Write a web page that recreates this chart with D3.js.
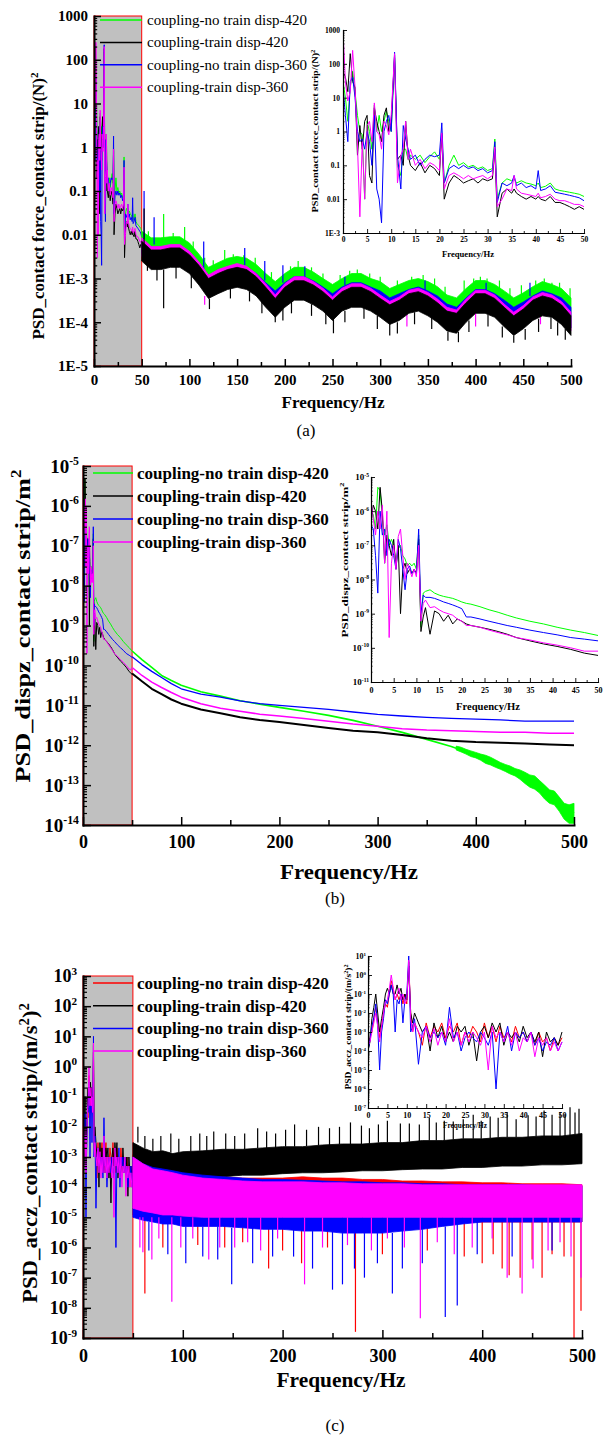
<!DOCTYPE html>
<html>
<head>
<meta charset="utf-8">
<script src="https://cdn.jsdelivr.net/npm/d3@7"></script>
<style>
  body { margin: 0; background: #fff; }
</style>
</head>
<body>
<svg id="fig" width="603" height="1440"></svg>
<script>
// ---------------- data ----------------
const seriesNames = ["coupling-no train disp-420", "coupling-train disp-420", "coupling-no train disp-360", "coupling-train disp-360"];
const colorsAB = ["#00ff00", "#000000", "#0000ff", "#ff00ff"];
const colorsC = ["#ff0000", "#000000", "#0000ff", "#ff00ff"];

// tick labels
const xLabelsA = ["0", "50", "100", "150", "200", "250", "300", "350", "400", "450", "500"];
const xLabelsBC = ["0", "100", "200", "300", "400", "500"];
const xLabelsInset = ["0", "5", "10", "15", "20", "25", "30", "35", "40", "45", "50"];
const yLabelsA = ["1E-5", "1E-4", "1E-3", "0.01", "0.1", "1", "10", "100", "1000"];
const yLabelsInsetA = ["1E-3", "0.01", "0.1", "1", "10", "100", "1000"];
const yExpB = ["-14", "-13", "-12", "-11", "-10", "-9", "-8", "-7", "-6", "-5"];
const yExpInsetB = ["-11", "-10", "-9", "-8", "-7", "-6", "-5"];
const yExpC = ["-9", "-8", "-7", "-6", "-5", "-4", "-3", "-2", "-1", "0", "1", "2", "3"];
const yExpInsetC = ["-7", "-6", "-5", "-4", "-3", "-2", "-1", "0", "1"];

// (a) contact force, 0-50 Hz detail (inset and shaded part)
const insetFreqA = [0,0.5,1,1.5,2,2.5,3,3.5,4,4.5,5,5.5,6,6.5,7,7.5,8,8.5,9,9.5,10,10.7,11.3,12,12.5,13,13.5,14,15,16,17,18,19,20,20.5,21,22,23,24,25,26,27,28,29,30,31,31.5,32,33,34,35,35.5,36,37,38,39,40,40.5,41,42,43,44,45,46,47,48,49,50];
const insetGreenA = [30,10,2,20,60,15,3,1,0.8,0.01,2,1,0.3,6,1,3,1,2,4,2,1,150,0.1,0.05,0.3,0.3,0.15,0.2,0.15,0.2,0.12,0.18,0.25,0.15,0.8,0.03,0.1,0.2,0.1,0.12,0.09,0.1,0.08,0.09,0.07,0.08,0.6,0.01,0.03,0.04,0.035,0.04,0.03,0.035,0.03,0.028,0.025,0.03,0.022,0.024,0.03,0.02,0.018,0.017,0.016,0.015,0.014,0.012];
const insetBlackA = [60,40,15,200,30,20,0.2,1.5,0.3,2,3,0.05,0.03,5,2,1,0.5,3,5,1,2,180,0.15,0.2,0.1,2,0.2,0.1,0.07,0.12,0.06,0.1,0.08,0.05,0.9,0.01,0.03,0.05,0.04,0.03,0.035,0.04,0.03,0.04,0.035,0.04,0.3,3e-3,0.015,0.02,0.015,0.02,0.015,0.012,0.01,0.012,0.01,0.012,0.01,0.009,0.012,0.008,0.008,0.007,0.006,0.005,0.006,0.005];
const insetBlueA = [20,3,0.5,30,40,10,1,0.5,0.6,0.3,1,0.5,0.1,3,0.02,0.01,2e-3,1,2,3,1,220,0.2,0.02,1.5,0.6,0.3,0.15,0.2,0.1,0.15,0.2,0.18,0.2,1.8,0.03,0.08,0.1,0.08,0.1,0.08,0.09,0.07,0.08,0.06,0.07,0.5,0.008,0.03,0.025,0.03,0.05,0.025,0.03,0.022,0.025,0.02,0.07,0.018,0.02,0.025,0.016,0.015,0.014,0.013,0.012,0.011,0.009];
const insetMagentaA = [900,30,8,15,250,20,0.4,3e-3,0.5,0.01,1.5,2,0.5,7,1,0.8,0.3,2,1.5,0.8,3,200,0.03,0.2,0.3,2,0.15,0.3,0.1,0.15,0.08,0.12,0.1,0.07,0.9,0.02,0.05,0.06,0.05,0.04,0.05,0.04,0.045,0.05,0.04,0.05,0.35,0.006,0.01,0.02,0.018,0.05,0.02,0.015,0.014,0.013,0.012,0.015,0.011,0.012,0.014,0.01,0.009,0.009,0.008,0.007,0.007,0.006];

// (a) 50-500 Hz: upper / lower edge of each noisy trace, every 10 Hz
const bandFreqA = d3.range(50, 501, 10);
const greenHiA = [1.2e-2,8.5e-3,8.5e-3,9e-3,9e-3,6.5e-3,3.6e-3,1.8e-3,2.3e-3,2.9e-3,3.2e-3,2.9e-3,2.1e-3,1.3e-3,8.5e-4,1.3e-3,1.8e-3,1.8e-3,1.4e-3,1e-3,7.3e-4,1e-3,1.3e-3,1.3e-3,1e-3,8.5e-4,5.9e-4,7.3e-4,9e-4,1e-3,8.5e-4,6.5e-4,4.2e-4,3.6e-4,5.9e-4,9e-4,9e-4,7.3e-4,5.2e-4,3.6e-4,4.7e-4,6.5e-4,8.5e-4,7.3e-4,5.9e-4,3.6e-4];
const greenLoA = [4.4e-3,3.1e-3,3.1e-3,3.5e-3,3.5e-3,2.5e-3,1.4e-3,6.9e-4,8.8e-4,1.1e-3,1.25e-3,1.1e-3,8e-4,5e-4,3.1e-4,5e-4,6.9e-4,6.9e-4,5.6e-4,3.9e-4,2.8e-4,3.9e-4,5e-4,5e-4,3.9e-4,3.1e-4,2.2e-4,2.8e-4,3.5e-4,3.9e-4,3.1e-4,2.5e-4,1.6e-4,1.4e-4,2.2e-4,3.5e-4,3.5e-4,2.8e-4,2e-4,1.4e-4,1.75e-4,2.5e-4,3.1e-4,2.8e-4,2.2e-4,1.4e-4];
const blueHiA = [7.2e-3,5.2e-3,5.2e-3,5.6e-3,5.6e-3,4e-3,2.2e-3,1.1e-3,1.4e-3,1.8e-3,2e-3,1.8e-3,1.3e-3,8e-4,5.2e-4,8e-4,1.1e-3,1.1e-3,8.8e-4,6.4e-4,4.5e-4,6.4e-4,8e-4,8e-4,6.4e-4,5.2e-4,3.6e-4,4.5e-4,5.6e-4,6.4e-4,5.2e-4,4e-4,2.6e-4,2.2e-4,3.6e-4,5.6e-4,5.6e-4,4.5e-4,3.2e-4,2.2e-4,2.9e-4,4e-4,5.2e-4,4.5e-4,3.6e-4,2.2e-4];
const blueLoA = [3.8e-3,2.4e-3,2.4e-3,2.7e-3,2.7e-3,2e-3,1.1e-3,5.3e-4,6.8e-4,8.4e-4,9.5e-4,8.4e-4,6e-4,3.3e-4,2e-4,3.3e-4,4.8e-4,4.8e-4,3.8e-4,2.7e-4,1.7e-4,2.7e-4,3.3e-4,3.3e-4,2.7e-4,2e-4,1.3e-4,1.7e-4,2.4e-4,2.7e-4,2.1e-4,1.5e-4,9.5e-5,8.4e-5,1.5e-4,2.4e-4,2.4e-4,2e-4,1.2e-4,7.5e-5,1.1e-4,1.7e-4,2.1e-4,2e-4,1.3e-4,7.5e-5];
const magentaHiA = [8.5e-3,5.4e-3,5.4e-3,6e-3,6e-3,4.2e-3,2.4e-3,1.2e-3,1.6e-3,1.9e-3,2.2e-3,1.9e-3,1.3e-3,7.6e-4,4.2e-4,7.6e-4,1.1e-3,1.1e-3,8.5e-4,6e-4,3.8e-4,6e-4,7.6e-4,7.6e-4,6e-4,4.2e-4,3e-4,3.8e-4,5.4e-4,6e-4,4.8e-4,3.4e-4,2.2e-4,1.9e-4,3.4e-4,5.4e-4,5.4e-4,4.2e-4,2.6e-4,1.7e-4,2.4e-4,3.8e-4,4.8e-4,4.2e-4,3e-4,1.7e-4];
const magentaLoA = [3.2e-3,2.1e-3,2.1e-3,2.3e-3,2.3e-3,1.7e-3,9.2e-4,4.5e-4,5.8e-4,7.3e-4,8.2e-4,7.3e-4,5.2e-4,2.9e-4,1.7e-4,2.9e-4,4.2e-4,4.2e-4,3.2e-4,2.3e-4,1.4e-4,2.3e-4,2.9e-4,2.9e-4,2.3e-4,1.7e-4,1.2e-4,1.4e-4,2.1e-4,2.3e-4,1.8e-4,1.3e-4,8.2e-5,7.3e-5,1.3e-4,2.1e-4,2.1e-4,1.7e-4,1e-4,6.5e-5,9.2e-5,1.4e-4,1.8e-4,1.7e-4,1.2e-4,6.5e-5];
const blackHiA = [7.1e-3,4.5e-3,4.5e-3,5e-3,5e-3,3.5e-3,2e-3,1e-3,1.3e-3,1.6e-3,1.8e-3,1.6e-3,1.1e-3,6.3e-4,3.5e-4,6.3e-4,8.9e-4,8.9e-4,7.1e-4,5e-4,3.2e-4,5e-4,6.3e-4,6.3e-4,5e-4,3.5e-4,2.5e-4,3.2e-4,4.5e-4,5e-4,4e-4,2.8e-4,1.8e-4,1.6e-4,2.8e-4,4.5e-4,4.5e-4,3.5e-4,2.2e-4,1.4e-4,2e-4,3.2e-4,4e-4,3.5e-4,2.5e-4,1.4e-4];
const blackLoA = [2.5e-3,1.6e-3,1.6e-3,1.8e-3,1.8e-3,1.3e-3,7.1e-4,3.5e-4,4.5e-4,5.6e-4,6.3e-4,5.6e-4,4e-4,2.2e-4,1.3e-4,2.2e-4,3.2e-4,3.2e-4,2.5e-4,1.8e-4,1.1e-4,1.8e-4,2.2e-4,2.2e-4,1.8e-4,1.3e-4,8.9e-5,1.1e-4,1.6e-4,1.8e-4,1.4e-4,1e-4,6.3e-5,5.6e-5,1e-4,1.6e-4,1.6e-4,1.3e-4,7.9e-5,5e-5,7.1e-5,1.1e-4,1.4e-4,1.3e-4,8.9e-5,5e-5];
// isolated peaks: [Hz, from, to]
const spikesGreenA = [[57,6e-3,1.2e-2],[73,5e-3,3e-2],[83,7e-3,1.1e-2],[95,5e-3,1.5e-2],[104,4.5e-3,7e-3],[116,1.4e-3,3e-3],[125,1.6e-3,2.6e-3],[137,2e-3,4.5e-3],[146,2.4e-3,3.6e-3],[157,2.2e-3,3.4e-3],[169,1.5e-3,3e-3],[186,8e-4,1.4e-3],[206,1.2e-3,1.9e-3],[214,1.2e-3,2.5e-3],[228,1.2e-3,1.8e-3],[240,8e-4,1.3e-3],[258,7e-4,1.2e-3],[268,9e-4,1.5e-3],[276,9e-4,1.6e-3],[289,8e-4,1.3e-3],[300,6e-4,1.1e-3],[318,5e-4,9e-4],[333,7e-4,1.1e-3],[345,7e-4,1.2e-3],[357,6e-4,1e-3],[368,3.5e-4,6.5e-4],[388,4e-4,9e-4],[398,6e-4,1e-3],[405,7e-4,1.1e-3],[412,6e-4,1e-3],[425,5e-4,9e-4],[436,3e-4,6e-4],[448,3.5e-4,7e-4],[463,5e-4,9e-4],[472,6e-4,1e-3],[480,5e-4,8e-4],[488,4.5e-4,8e-4],[499,3e-4,6e-4]];
const spikesBlueA = [[52.5,8e-3,1e-1],[63,6e-3,2.5e-2],[115,1.3e-3,7e-3],[158,2e-3,5e-3],[179,9e-4,2.5e-3],[198,8e-4,2e-3],[221,1e-3,1.9e-3],[263,7e-4,1.1e-3],[347,5e-4,9e-4],[411,5e-4,8e-4],[457,4e-4,8e-4]];
const spikesMagentaA = [[116,4e-4,2.5e-4],[328,1.8e-4,8e-5],[400,2e-4,8e-5],[468,1.5e-4,9e-5]];
const spikesBlackA = [[52.5,6e-3,4e-2],[56,4e-3,1.5e-3],[66,1.8e-3,9e-4],[73,1.6e-3,2.1e-4],[86,2e-3,1e-3],[102,1.2e-3,6e-4],[121,3.5e-4,2e-4],[143,6e-4,3.5e-4],[163,5e-4,3e-4],[176,3e-4,1.6e-4],[190,1.5e-4,1e-4],[198,2e-4,1.1e-4],[207,3e-4,1.6e-4],[228,2.6e-4,1.4e-4],[243,1.7e-4,9e-5],[251,1.2e-4,5.6e-5],[263,1.8e-4,1e-4],[283,2.2e-4,1.2e-4],[297,1.4e-4,7e-5],[310,1e-4,5e-5],[318,1e-4,5.5e-5],[336,1.7e-4,9e-5],[354,1.3e-4,7e-5],[371,6e-5,3.8e-5],[382,6e-5,3.5e-5],[393,1.1e-4,6e-5],[413,1.5e-4,8e-5],[428,8e-5,4.5e-5],[440,5e-5,3.4e-5],[452,7e-5,4e-5],[466,1.2e-4,6e-5],[479,1.3e-4,7e-5],[486,1e-4,5e-5],[494,7e-5,4e-5]];

// (b) displacement, 0-50 Hz detail
const insetFreqB = [0,0.5,1,1.5,2,2.5,3,3.5,4,4.5,5,5.5,6,6.5,7,7.5,8,8.5,9,9.5,10,10.5,11,11.5,12,13,14,15,16,17,18,19,20,21,22,24,26,28,30,32,35,38,41,44,47,50];
const insetGreenB = [1e-6,8e-7,3e-7,5e-6,4e-6,6e-7,2e-7,4e-7,1e-7,1.5e-7,1e-7,3e-8,8e-8,1e-7,5e-8,4e-8,2.5e-8,3e-8,2.5e-8,3e-8,2e-8,2e-7,4e-10,4e-9,4.5e-9,5e-9,4e-9,3.5e-9,3.2e-9,3e-9,2.8e-9,2.5e-9,2.2e-9,2e-9,1.9e-9,1.6e-9,1.3e-9,1.1e-9,9e-10,7.5e-10,6e-10,5e-10,4e-10,3.3e-10,2.8e-10,2.3e-10];
const insetBlackB = [5e-7,1.5e-6,1e-6,3e-7,5e-6,1e-6,3e-8,2e-7,1e-7,5e-8,1.5e-7,2e-8,1e-7,1e-9,2e-8,3e-8,1.5e-8,2e-8,1.5e-8,2e-8,1.5e-8,1.5e-7,3e-10,8e-10,1.5e-9,2.5e-10,1.2e-9,1e-9,6e-10,9e-10,5e-10,7e-10,6e-10,5e-10,4.5e-10,4e-10,3.5e-10,3e-10,2.5e-10,2e-10,1.6e-10,1.3e-10,1.1e-10,9e-11,7e-11,6e-11];
const insetBlueB = [4e-7,3e-7,5e-8,4e-9,1e-6,2e-7,3e-7,5e-8,1.5e-7,1e-7,5e-8,2e-8,1.5e-7,8e-8,2e-8,5e-9,2e-8,2.5e-8,1.5e-8,1.8e-8,1.5e-8,3e-7,1e-9,3.5e-9,3e-9,3e-9,2.8e-9,2.5e-9,2.2e-9,2e-9,1.8e-9,1.6e-9,1.4e-9,8e-10,8e-10,7e-10,6e-10,5.2e-10,4.5e-10,4e-10,3.3e-10,2.8e-10,2.4e-10,2e-10,1.8e-10,1.6e-10];
const insetMagentaB = [2e-6,6e-7,2e-7,1e-6,3e-7,1.5e-6,3e-8,1e-6,2e-10,3e-8,1e-7,2e-8,1.8e-7,3e-7,5e-8,1e-8,3e-8,2e-8,1.2e-8,2e-8,1.2e-8,1e-7,6e-10,2e-9,2.5e-9,1.5e-9,1.6e-9,1.3e-9,1.1e-9,1e-9,9e-10,7e-10,6e-10,4.5e-10,4.5e-10,4e-10,3.3e-10,2.8e-10,2.4e-10,2e-10,1.7e-10,1.4e-10,1.2e-10,1e-10,8e-11,8e-11];

// (b) 50-500 Hz
const lineFreqB = [50,60,70,80,90,100,120,140,160,180,200,225,250,275,300,325,350,375,400,425,450,475,500];
const greenB = [2.3e-10,1.4e-10,8.9e-11,5.6e-11,4.2e-11,3.2e-11,2.2e-11,1.7e-11,1.3e-11,1.07e-11,8.9e-12,7.1e-12,5.6e-12,4.2e-12,3e-12,2.1e-12,1.4e-12,9.3e-13,5.6e-13,3.2e-13,1.8e-13,5.6e-14,2e-14];
const blackB = [6.3e-11,4e-11,2.6e-11,1.9e-11,1.4e-11,1.1e-11,7.9e-12,6.3e-12,5e-12,4.3e-12,3.8e-12,3.2e-12,2.7e-12,2.3e-12,2.1e-12,1.8e-12,1.5e-12,1.3e-12,1.2e-12,1.15e-12,1.1e-12,1.05e-12,1e-12];
const blueB = [1.66e-10,1.05e-10,7.1e-11,5e-11,3.5e-11,2.6e-11,1.9e-11,1.6e-11,1.3e-11,1.1e-11,1e-11,8.9e-12,7.9e-12,6.8e-12,5.9e-12,5.4e-12,5e-12,4.7e-12,4.5e-12,4.3e-12,4e-12,4e-12,4e-12];
const magentaB = [8.9e-11,5.6e-11,3.8e-11,2.8e-11,2.1e-11,1.6e-11,1.1e-11,8.5e-12,7.1e-12,6e-12,5.4e-12,4.7e-12,4e-12,3.4e-12,3e-12,2.6e-12,2.4e-12,2.3e-12,2.2e-12,2.1e-12,2.1e-12,2e-12,2e-12];
// green trace spreads into a band at the top end
const greenBandFreqB = [380,385,390,395,400,405,410,415,420,425,430,435,440,445,450,455,460,465,470,475,480,485,490,495,500];
const greenHiB = [9.5e-13,8.9e-13,7.9e-13,7.2e-13,6.6e-13,6e-13,5.6e-13,5e-13,4.3e-13,3.7e-13,3.3e-13,3e-13,2.6e-13,2.4e-13,2.1e-13,1.8e-13,1.7e-13,1.3e-13,1e-13,7.6e-14,7.1e-14,5e-14,3.5e-14,3.2e-14,3.5e-14];
const greenLoB = [7.6e-13,6.8e-13,6e-13,5.2e-13,4.8e-13,4.2e-13,3.5e-13,3.2e-13,2.8e-13,2.5e-13,2.2e-13,1.9e-13,1.7e-13,1.4e-13,1.1e-13,8.9e-14,7.9e-14,6.3e-14,4.5e-14,3.5e-14,3.2e-14,2.2e-14,1.4e-14,1.1e-14,1.1e-14];

// (c) acceleration, 0-50 Hz detail
const insetFreqC = [0,0.5,1,1.5,2,2.5,3,3.5,4,4.5,5,5.5,6,6.5,7,7.5,8,8.5,9,9.5,10,10.5,11,11.5,12,13,14,15,16,17,18,19,20,21,22,23,24,25,26,27,28,29,30,31,32,33,34,35,36,37,38,39,40,41,42,43,44,45,46,47,48,49,50];
const insetRedC = [2e-4,5e-4,1e-3,5e-3,2e-2,3e-3,5e-4,2e-3,1e-2,3e-2,2e-2,1e-1,5e-1,2e-1,5e-2,1e-1,5e-2,1e-1,3e-2,1e-1,3e-2,5,1e-2,1e-3,3e-3,1e-3,2e-4,3e-3,5e-4,2e-3,1e-3,3e-3,5e-4,2e-3,1e-3,3e-3,2e-4,1e-3,5e-4,2e-3,1e-3,3e-4,3e-3,5e-4,2e-3,3e-4,2e-3,5e-4,1e-3,3e-4,2e-3,5e-4,1e-3,3e-4,1e-3,2e-4,1e-3,3e-4,5e-4,1e-4,5e-4,2e-4,5e-4];
const insetBlackC = [1e-4,3e-4,5e-3,2e-2,1e-1,1e-2,1e-3,5e-3,2e-2,1e-1,2e-1,1e-1,3e-1,1e-1,1e-1,3e-1,1e-1,2e-1,5e-2,1e-1,5e-2,3,1e-2,3e-3,1e-2,3e-3,1e-3,2e-3,1e-4,3e-3,5e-4,2e-3,3e-4,1e-3,3e-4,2e-3,1e-3,2e-3,2e-4,1e-3,3e-5,1e-3,2e-3,5e-4,3e-3,1e-3,3e-3,2e-4,1e-3,5e-4,1e-3,3e-4,2e-3,5e-4,1e-3,3e-4,1e-3,5e-5,1e-3,3e-4,5e-4,2e-4,1e-3];
const insetBlueC = [1e-4,4e-4,2e-3,6e-3,3e-2,2e-3,1e-5,1e-3,5e-3,5e-2,3e-2,1e-1,3e-1,1e-1,1e-3,5e-2,3e-2,1e-1,3e-3,5e-2,1e-1,10,1e-3,2e-3,5e-3,2e-5,1e-3,2e-3,5e-4,1e-3,5e-4,1e-3,2e-4,2e-2,5e-4,1e-3,1e-4,5e-4,1e-3,5e-4,3e-4,1e-3,5e-4,2e-4,1e-3,1e-6,1e-3,3e-4,2e-3,1e-4,1e-3,5e-4,1e-3,3e-4,1e-3,2e-4,5e-4,1e-4,3e-4,2e-4,5e-4,1e-4,3e-4];
const insetMagentaC = [2e-4,3e-4,1e-3,3e-3,1e-2,2e-3,3e-4,2e-3,1e-2,4e-2,5e-2,2e-1,1,2e-1,5e-2,1e-1,2e-1,5e-2,1e-1,3e-2,5e-2,6,5e-3,1e-3,3e-3,1e-3,5e-4,2e-3,3e-4,1.5e-3,2e-4,1e-3,3e-4,5e-3,3e-4,1e-3,2e-4,1e-3,3e-4,1e-3,5e-4,2e-4,1e-3,1e-5,2e-3,5e-4,1e-3,3e-4,1e-3,2e-4,1e-3,1e-4,5e-4,3e-4,1e-3,5e-5,5e-4,2e-4,5e-4,1e-4,3e-4,1e-4,3e-4];

// (c) 50-500 Hz: upper / lower edge of each noisy trace
const bandFreqC = [50,60,70,80,90,100,120,140,160,180,200,220,240,260,280,300,320,340,360,380,400,420,440,460,480,500];
const redHiC = [1.2e-3,7e-4,5e-4,4e-4,3.5e-4,3e-4,2.5e-4,2.2e-4,2e-4,2e-4,2e-4,2.2e-4,2e-4,2e-4,1.8e-4,1.8e-4,1.6e-4,1.6e-4,1.5e-4,1.5e-4,1.4e-4,1.4e-4,1.3e-4,1.3e-4,1.3e-4,1.2e-4];
const redLoC = [1.2e-5,1e-5,9e-6,8e-6,8e-6,8e-6,8e-6,8e-6,8e-6,8e-6,8e-6,8e-6,8e-6,8e-6,8e-6,8e-6,8e-6,8e-6,8e-6,7e-6,7e-6,7e-6,7e-6,7e-6,7e-6,7e-6];
const blackHiC = [3e-3,2e-3,1.5e-3,1.6e-3,1.3e-3,1.5e-3,1.6e-3,1.8e-3,1.8e-3,2e-3,2.2e-3,2.2e-3,2.5e-3,2.7e-3,2.7e-3,3e-3,3e-3,3.5e-3,3.5e-3,4e-3,4e-3,4.5e-3,4.5e-3,5e-3,5e-3,6e-3];
const blackLoC = [3e-4,2.5e-4,2e-4,2e-4,1.8e-4,2e-4,2e-4,2.2e-4,2.5e-4,2.5e-4,2.8e-4,3e-4,3e-4,3.2e-4,3.5e-4,3.5e-4,3.8e-4,4e-4,4e-4,4.5e-4,4.5e-4,5e-4,5e-4,5.5e-4,5.5e-4,6e-4];
const blueHiC = [1e-3,6e-4,4.5e-4,4e-4,3.5e-4,3e-4,2.5e-4,2.2e-4,2e-4,1.8e-4,1.8e-4,1.7e-4,1.6e-4,1.5e-4,1.5e-4,1.4e-4,1.4e-4,1.3e-4,1.3e-4,1.2e-4,1.2e-4,1.2e-4,1.2e-4,1.1e-4,1.1e-4,1.1e-4];
const blueLoC = [1e-5,8e-6,7e-6,6e-6,6e-6,5e-6,5e-6,5e-6,4.5e-6,4e-6,4e-6,3.5e-6,3.5e-6,3e-6,3e-6,3e-6,3.5e-6,4e-6,5e-6,6e-6,7e-6,7e-6,7e-6,7e-6,7e-6,7e-6];
const magentaHiC = [1e-3,6e-4,4e-4,3.5e-4,3e-4,2.5e-4,2e-4,1.8e-4,1.6e-4,1.5e-4,1.5e-4,1.5e-4,1.4e-4,1.4e-4,1.3e-4,1.3e-4,1.3e-4,1.2e-4,1.2e-4,1.2e-4,1.2e-4,1.2e-4,1.2e-4,1.2e-4,1.2e-4,1.2e-4];
const magentaLoC = [2e-5,1.6e-5,1.4e-5,1.2e-5,1.2e-5,1.1e-5,1e-5,1e-5,1e-5,1e-5,1e-5,1e-5,1e-5,1e-5,1e-5,1e-5,1e-5,1e-5,1e-5,1e-5,1e-5,1e-5,1e-5,1e-5,1e-5,1e-5];
const spikesBlackC = [[55,3e-3,1e-2],[62,2e-3,5e-3],[70,1.5e-3,4e-3],[78,1.5e-3,5e-3],[88,1.4e-3,6e-3],[96,1.4e-3,4e-3],[108,1.5e-3,5e-3],[117,1.6e-3,6e-3],[124,1.6e-3,5e-3],[131,1.7e-3,7e-3],[143,1.8e-3,6e-3],[152,1.8e-3,5e-3],[162,1.8e-3,6e-3],[175,2e-3,9e-3],[184,2e-3,7e-3],[193,2e-3,6e-3],[203,2.2e-3,8e-3],[212,2.2e-3,1.2e-2],[224,2.3e-3,8e-3],[236,2.4e-3,1e-2],[247,2.5e-3,9e-3],[257,2.6e-3,1e-2],[268,2.7e-3,1.4e-2],[279,2.7e-3,1.1e-2],[287,2.8e-3,9e-3],[296,3e-3,1.2e-2],[305,3e-3,1.6e-2],[318,3e-3,1.3e-2],[327,3.2e-3,1.3e-2],[337,3.4e-3,1.2e-2],[347,3.5e-3,2e-2],[354,3.5e-3,1.4e-2],[362,3.5e-3,1.6e-2],[371,3.8e-3,1.5e-2],[381,4e-3,1.8e-2],[391,4e-3,2.5e-2],[399,4e-3,1.6e-2],[408,4.2e-3,2.2e-2],[416,4.4e-3,2e-2],[425,4.5e-3,3e-2],[434,4.5e-3,1.8e-2],[446,4.6e-3,2.4e-2],[454,4.8e-3,2.2e-2],[462,5e-3,3.5e-2],[470,5e-3,2.5e-2],[478,5e-3,3e-2],[483,5e-3,2.6e-2],[488,5.2e-3,4.5e-2],[493,5.5e-3,3e-2],[497,5.8e-3,4e-2]];
const spikesRedC = [[62,1e-5,3e-8],[80,8e-6,1e-6],[115,8e-6,1.2e-6],[142,8e-6,1e-6],[160,8e-6,1.5e-6],[186,8e-6,2e-7],[200,8e-6,8e-7],[219,8e-6,3e-7],[245,8e-6,1e-6],[273,8e-6,1.6e-9],[300,8e-6,6e-7],[345,8e-6,8e-7],[382,7e-6,5e-7],[400,7e-6,3e-7],[411,7e-6,6e-7],[420,7e-6,2e-7],[427,7e-6,1.2e-7],[438,7e-6,1e-7],[450,7e-6,4e-7],[460,7e-6,1e-7],[470,7e-6,6e-7],[482,7e-6,5e-7],[492,7e-6,1e-9],[499,7e-6,8e-9]];
const spikesBlueC = [[66,7e-6,8e-7],[85,6e-6,6e-7],[103,5e-6,3e-7],[120,5e-6,5e-7],[135,5e-6,4e-7],[149,4.5e-6,6e-8],[170,4.5e-6,3e-7],[190,4e-6,5e-7],[211,4e-6,5e-7],[230,3.5e-6,2e-7],[250,3.5e-6,4e-8],[260,3e-6,6e-8],[272,3e-6,2e-7],[282,3e-6,1e-7],[295,3e-6,3e-7],[310,3e-6,3e-8],[320,3.5e-6,2e-7],[340,4e-6,3e-7],[363,5e-6,5e-9],[375,6e-6,1.2e-8],[395,7e-6,6e-7],[430,7e-6,5e-7],[470,7e-6,8e-7]];
const spikesMagentaC = [[57,1e-5,1e-6],[60,1e-5,7e-7],[69,1e-5,4e-7],[76,1e-5,2e-6],[89,1e-5,1.6e-8],[98,1e-5,1e-6],[110,1e-5,2e-6],[126,1e-5,4e-7],[137,1e-5,1e-6],[152,1e-5,1e-6],[165,1e-5,1.5e-6],[178,1e-5,8e-7],[195,1e-5,2e-6],[222,1e-5,6e-8],[240,1e-5,1e-6],[265,1e-5,1.2e-6],[289,1e-5,8e-7],[305,1e-5,2e-6],[322,1e-5,1e-6],[338,1e-5,4.5e-9],[355,1e-5,1.5e-6],[372,1e-5,6e-7],[390,1e-5,1e-6],[410,1e-5,2e-6],[425,1e-5,1e-7],[440,1e-5,3e-8],[451,1e-5,2e-7],[466,1e-5,8e-7],[478,1e-5,1.5e-6],[489,1e-5,5e-7],[499,1e-5,1e-7]];

// ---------------- drawing ----------------
const SERIF = "'Liberation Serif','Times New Roman',Times,serif";
const svg = d3.select("#fig");

function makeFrame(id, left, right, top, bottom, xMax, yDomain) {
  const x = d3.scaleLinear().domain([0, xMax]).range([left, right]);
  const y = d3.scaleLog().domain(yDomain).range([bottom, top]);
  svg.append("clipPath").attr("id", id)
    .append("rect").attr("x", left).attr("y", top - 1)
    .attr("width", right - left + 1).attr("height", bottom - top + 1);
  return { x, y, clip: `url(#${id})` };
}

function shade(fr) {
  svg.append("rect")
    .attr("x", fr.x(0)).attr("y", fr.y.range()[1])
    .attr("width", fr.x(50) - fr.x(0))
    .attr("height", fr.y.range()[0] - fr.y.range()[1])
    .attr("fill", "#c0c0c0").attr("stroke", "#ff0000").attr("stroke-width", 1);
}

function trace(g, fr, freqs, vals, color, w) {
  const rows = freqs.map((f, i) => ({ f, v: vals[i] }));
  g.append("path").datum(rows)
    .attr("fill", "none").attr("stroke", color).attr("stroke-width", w)
    .attr("stroke-linejoin", "round")
    .attr("d", d3.line().x(d => fr.x(d.f)).y(d => fr.y(d.v)));
}

function band(g, fr, freqs, hi, lo, color) {
  const rows = freqs.map((f, i) => ({ f, hi: hi[i], lo: lo[i] }));
  g.append("path").datum(rows)
    .attr("fill", color).attr("stroke", color).attr("stroke-width", 0.8)
    .attr("d", d3.area().x(d => fr.x(d.f)).y0(d => fr.y(d.lo)).y1(d => fr.y(d.hi)));
}

function spikes(g, fr, list, color, w) {
  g.selectAll(null).data(list).join("line")
    .attr("x1", d => fr.x(d[0])).attr("x2", d => fr.x(d[0]))
    .attr("y1", d => fr.y(d[1])).attr("y2", d => fr.y(d[2]))
    .attr("stroke", color).attr("stroke-width", w);
}

function axes(fr, o) {
  const g = svg.append("g");
  const [x0] = fr.x.range();
  const yb = fr.y.range()[0];
  const kLo = Math.round(Math.log10(fr.y.domain()[0]));
  const kHi = Math.round(Math.log10(fr.y.domain()[1]));
  const yMajor = d3.range(kLo, kHi + 1).map(k => Math.pow(10, k));
  const yMinor = [];
  for (let k = kLo; k < kHi; k++) for (let m = 2; m < 10; m++) yMinor.push(m * Math.pow(10, k));
  const xMajor = o.xLabels.map(Number);
  const style = s => s.attr("font-family", SERIF).attr("font-size", o.font).attr("font-weight", "bold");

  g.append("g").attr("transform", `translate(0,${yb})`)
    .call(d3.axisBottom(fr.x).tickValues(o.xMinor).tickSize(-o.minor).tickSizeOuter(0).tickFormat(""))
    .call(s => { s.select(".domain").remove(); s.selectAll("line").attr("stroke-width", o.sw * 0.75); });
  g.append("g").attr("transform", `translate(${x0},0)`)
    .call(d3.axisLeft(fr.y).tickValues(yMinor).tickSize(-o.minor * 0.8).tickSizeOuter(0).tickFormat(""))
    .call(s => { s.select(".domain").remove(); s.selectAll("line").attr("stroke-width", o.sw * 0.6); });

  const xa = g.append("g").attr("transform", `translate(0,${yb})`)
    .call(d3.axisBottom(fr.x).tickValues(xMajor).tickSize(-o.tick).tickSizeOuter(0)
      .tickPadding(o.padX).tickFormat((d, i) => o.xLabels[i]))
    .call(style);
  xa.select(".domain").attr("stroke-width", o.sw).attr("stroke-linecap", "square");
  xa.selectAll(".tick line").attr("stroke-width", o.sw * 0.75);
  if (o.xFont) xa.attr("font-size", o.xFont);

  const ya = g.append("g").attr("transform", `translate(${x0},0)`)
    .call(d3.axisLeft(fr.y).tickValues(yMajor).tickSize(-o.tick).tickSizeOuter(0)
      .tickPadding(o.padY).tickFormat(""))
    .call(style);
  ya.select(".domain").attr("stroke-width", o.sw).attr("stroke-linecap", "square");
  ya.selectAll(".tick line").attr("stroke-width", o.sw * 0.75);
  ya.selectAll(".tick text").each(function (d, i) {
    const t = d3.select(this);
    if (o.sup) {
      t.append("tspan").text("10");
      t.append("tspan").attr("dy", -o.font * 0.42).attr("font-size", o.font * 0.62).text(o.yLabels[i]);
    } else {
      t.text(o.yLabels[i]);
    }
  });
}

// text with optional superscripts: parts = ["plain", ["sup"], ...]
function label(parts, o) {
  const t = svg.append("text")
    .attr("x", o.x).attr("y", o.y)
    .attr("font-family", SERIF).attr("font-size", o.size)
    .attr("font-weight", o.weight || "bold")
    .attr("text-anchor", "middle").attr("fill", "#000");
  if (o.rotate) t.attr("transform", `rotate(-90,${o.x},${o.y})`);
  if (o.len) t.attr("textLength", o.len).attr("lengthAdjust", "spacingAndGlyphs");
  let up = 0;
  parts.forEach(p => {
    const s = t.append("tspan");
    if (Array.isArray(p)) {
      const lift = o.size * 0.4;
      s.text(p[0]).attr("font-size", o.size * 0.65).attr("dy", -lift);
      up += lift;
    } else {
      s.text(p);
      if (up) { s.attr("dy", up); up = 0; }
    }
  });
}

function legend(colors, o) {
  const g = svg.append("g");
  seriesNames.forEach((name, i) => {
    const yy = o.y0 + i * o.step;
    g.append("line").attr("x1", o.x0).attr("x2", o.x1).attr("y1", yy).attr("y2", yy)
      .attr("stroke", colors[i]).attr("stroke-width", o.lw);
    g.append("text").attr("x", o.tx).attr("y", yy + o.dy)
      .attr("font-family", SERIF).attr("font-size", o.size)
      .attr("font-weight", o.weight).attr("fill", "#000").text(name);
  });
}

// ======== (a) ========
const fa = makeFrame("clipA", 94, 571, 16, 366, 500, [1e-5, 1e3]);
shade(fa);
{
  const g = svg.append("g").attr("clip-path", fa.clip);
  trace(g, fa, insetFreqA, insetGreenA, colorsAB[0], 1);
  trace(g, fa, insetFreqA, insetBlackA, colorsAB[1], 1);
  trace(g, fa, insetFreqA, insetBlueA, colorsAB[2], 1);
  trace(g, fa, insetFreqA, insetMagentaA, colorsAB[3], 1);
  band(g, fa, bandFreqA, greenHiA, greenLoA, colorsAB[0]);
  spikes(g, fa, spikesGreenA, colorsAB[0], 1.2);
  band(g, fa, bandFreqA, blueHiA, blueLoA, colorsAB[2]);
  spikes(g, fa, spikesBlueA, colorsAB[2], 1.2);
  band(g, fa, bandFreqA, magentaHiA, magentaLoA, colorsAB[3]);
  spikes(g, fa, spikesMagentaA, colorsAB[3], 1.2);
  band(g, fa, bandFreqA, blackHiA, blackLoA, colorsAB[1]);
  spikes(g, fa, spikesBlackA, colorsAB[1], 1.2);
}
axes(fa, { xLabels: xLabelsA, xMinor: d3.range(25, 500, 50), yLabels: yLabelsA, font: 15,
  tick: 7, minor: 4, padX: 8, padY: 6, sw: 2 });
legend(colorsAB, { x0: 100, x1: 142, tx: 147, y0: 20, step: 22.4, dy: 5, size: 15, weight: "normal", lw: 1.5 });

const ia = makeFrame("clipIA", 343, 584, 30, 233, 50, [1e-3, 1e3]);
{
  const g = svg.append("g").attr("clip-path", ia.clip);
  trace(g, ia, insetFreqA, insetGreenA, colorsAB[0], 1);
  trace(g, ia, insetFreqA, insetBlackA, colorsAB[1], 1);
  trace(g, ia, insetFreqA, insetBlueA, colorsAB[2], 1);
  trace(g, ia, insetFreqA, insetMagentaA, colorsAB[3], 1);
}
axes(ia, { xLabels: xLabelsInset, xMinor: d3.range(2.5, 50, 5), yLabels: yLabelsInsetA, font: 7.5,
  tick: 4, minor: 2, padX: 4, padY: 3, sw: 1.2 });

label(["PSD_contact force_contact strip/(N)", ["2"]], { x: 44, y: 206, size: 16, rotate: true, len: 267 });
label(["Frequency/Hz"], { x: 333, y: 408, size: 17, len: 103 });
label(["(a)"], { x: 306, y: 436, size: 17, weight: "normal" });
label(["PSD_contact force_contact strip/(N)", ["2"]], { x: 318, y: 131, size: 8.5, rotate: true, len: 163 });
label(["Frequency/Hz"], { x: 468, y: 257, size: 8.5, len: 52 });

// ======== (b) ========
const fb = makeFrame("clipB", 83, 574, 466, 825, 500, [1e-14, 1e-5]);
shade(fb);
{
  const g = svg.append("g").attr("clip-path", fb.clip);
  trace(g, fb, insetFreqB, insetGreenB, colorsAB[0], 1);
  trace(g, fb, insetFreqB, insetBlackB, colorsAB[1], 1);
  trace(g, fb, insetFreqB, insetBlueB, colorsAB[2], 1);
  trace(g, fb, insetFreqB, insetMagentaB, colorsAB[3], 1);
  trace(g, fb, lineFreqB, greenB, colorsAB[0], 1.6);
  band(g, fb, greenBandFreqB, greenHiB, greenLoB, colorsAB[0]);
  trace(g, fb, lineFreqB, blackB, colorsAB[1], 2);
  trace(g, fb, lineFreqB, blueB, colorsAB[2], 1.3);
  trace(g, fb, lineFreqB, magentaB, colorsAB[3], 1.5);
}
axes(fb, { xLabels: xLabelsBC, xMinor: d3.range(50, 500, 100), yLabels: yExpB, sup: true, font: 19, xFont: 18,
  tick: 8, minor: 5, padX: 10, padY: 4, sw: 2 });
legend(colorsAB, { x0: 93, x1: 133, tx: 137, y0: 473, step: 23, dy: 6, size: 17, weight: "bold", lw: 1.5 });

const ib = makeFrame("clipIB", 371, 598, 477, 682, 50, [1e-11, 1e-5]);
{
  const g = svg.append("g").attr("clip-path", ib.clip);
  trace(g, ib, insetFreqB, insetGreenB, colorsAB[0], 1);
  trace(g, ib, insetFreqB, insetBlackB, colorsAB[1], 1);
  trace(g, ib, insetFreqB, insetBlueB, colorsAB[2], 1);
  trace(g, ib, insetFreqB, insetMagentaB, colorsAB[3], 1);
}
axes(ib, { xLabels: xLabelsInset, xMinor: d3.range(2.5, 50, 5), yLabels: yExpInsetB, sup: true, font: 9, xFont: 8,
  tick: 4, minor: 2, padX: 5, padY: 2, sw: 1.2 });

label(["PSD_dispz_contact strip/m", ["2"]], { x: 30, y: 626, size: 22, rotate: true, len: 313 });
label(["Frequency/Hz"], { x: 349, y: 879, size: 22, len: 138 });
label(["(b)"], { x: 335, y: 904, size: 17, weight: "normal" });
label(["PSD_dispz_contact strip/m", ["2"]], { x: 348, y: 560, size: 9, rotate: true, len: 155 });
label(["Frequency/Hz"], { x: 488, y: 710, size: 10, len: 64 });

// ======== (c) ========
const fc = makeFrame("clipC", 83, 582, 976, 1338, 500, [1e-9, 1e3]);
shade(fc);

const ic = makeFrame("clipIC", 368, 562, 956, 1108, 50, [1e-7, 1e1]);
{
  const g = svg.append("g").attr("clip-path", ic.clip);
  trace(g, ic, insetFreqC, insetRedC, colorsC[0], 1);
  trace(g, ic, insetFreqC, insetBlackC, colorsC[1], 1);
  trace(g, ic, insetFreqC, insetBlueC, colorsC[2], 1);
  trace(g, ic, insetFreqC, insetMagentaC, colorsC[3], 1);
}
axes(ic, { xLabels: xLabelsInset, xMinor: d3.range(2.5, 50, 5), yLabels: yExpInsetC, sup: true, font: 8, xFont: 8,
  tick: 4, minor: 2, padX: 4, padY: 2, sw: 1.2 });
label(["PSD_accz_contact strip/(m/s", ["2"], ")", ["2"]], { x: 351, y: 1027, size: 8, rotate: true, len: 125 });
label(["Frequency/Hz"], { x: 465, y: 1128, size: 7.5, len: 44 });

{
  const g = svg.append("g").attr("clip-path", fc.clip);
  trace(g, fc, insetFreqC, insetRedC, colorsC[0], 1);
  trace(g, fc, insetFreqC, insetBlackC, colorsC[1], 1);
  trace(g, fc, insetFreqC, insetBlueC, colorsC[2], 1);
  trace(g, fc, insetFreqC, insetMagentaC, colorsC[3], 1);
  band(g, fc, bandFreqC, redHiC, redLoC, colorsC[0]);
  spikes(g, fc, spikesRedC, colorsC[0], 1.2);
  band(g, fc, bandFreqC, blackHiC, blackLoC, colorsC[1]);
  spikes(g, fc, spikesBlackC, colorsC[1], 1.2);
  band(g, fc, bandFreqC, blueHiC, blueLoC, colorsC[2]);
  spikes(g, fc, spikesBlueC, colorsC[2], 1.2);
  band(g, fc, bandFreqC, magentaHiC, magentaLoC, colorsC[3]);
  spikes(g, fc, spikesMagentaC, colorsC[3], 1.2);
}
axes(fc, { xLabels: xLabelsBC, xMinor: d3.range(50, 500, 100), yLabels: yExpC, sup: true, font: 18, xFont: 18,
  tick: 8, minor: 5, padX: 11, padY: 6, sw: 2 });
legend(colorsC, { x0: 93, x1: 133, tx: 137, y0: 983, step: 22.7, dy: 6, size: 17, weight: "bold", lw: 1.5 });

label(["PSD_accz_contact strip/(m/s", ["2"], ")", ["2"]], { x: 37, y: 1153, size: 21, rotate: true, len: 300 });
label(["Frequency/Hz"], { x: 341, y: 1387, size: 21, len: 129 });
label(["(c)"], { x: 335, y: 1431, size: 17, weight: "normal" });
</script>
</body>
</html>
